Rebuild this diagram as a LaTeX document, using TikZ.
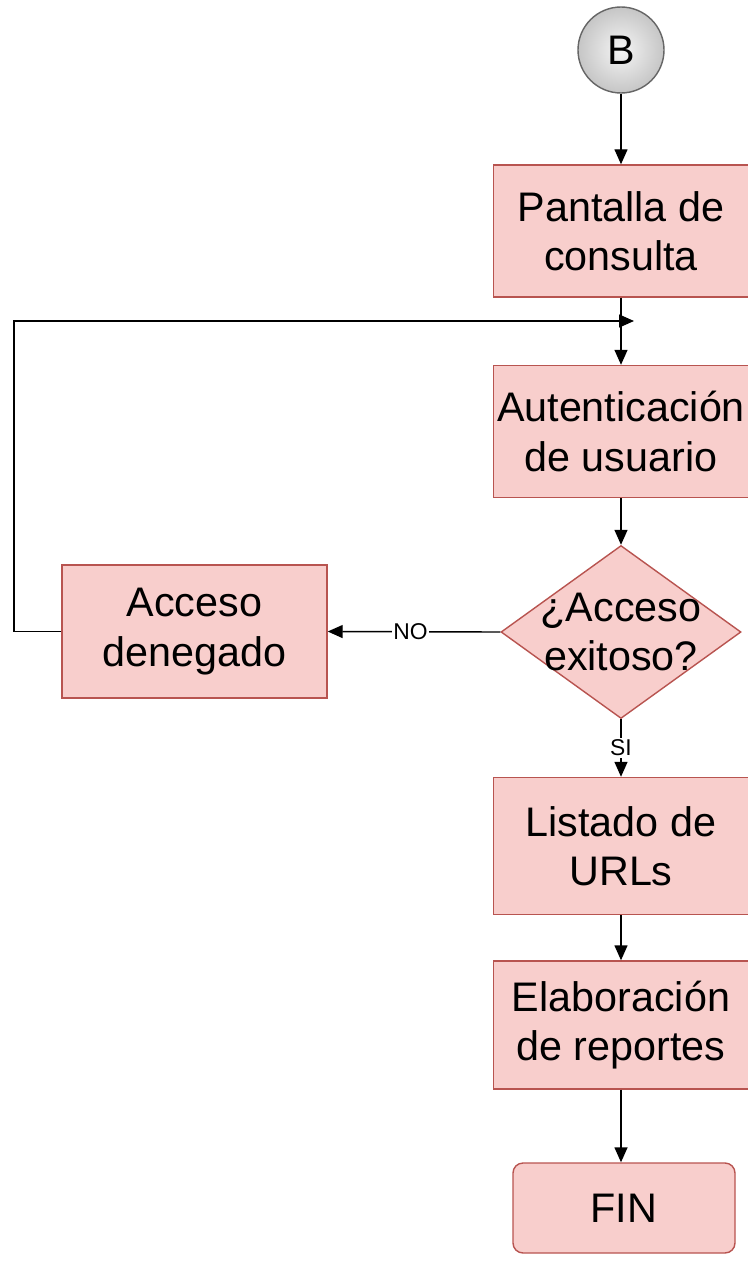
\documentclass[tikz,border=0pt]{standalone}
\usepackage{fontspec}
\setmainfont{Liberation Sans}
\usetikzlibrary{shapes.geometric,arrows.meta}
\definecolor{boxfill}{HTML}{F8CECC}
\definecolor{boxline}{HTML}{B85450}

\begin{document}
\begin{tikzpicture}[line width=0.8pt, >={Triangle[length=0.3cm,width=0.26cm]},
  proc/.style={draw=boxline, fill=boxfill, align=center, minimum width=5.1cm, minimum height=2.64cm, inner sep=0.05cm, font=\fontsize{23.5}{28}\selectfont},
  decision/.style={diamond, draw=boxline, fill=boxfill, align=center, shape aspect=1.39, minimum width=4.8cm, minimum height=3.46cm, inner sep=-0.5cm, font=\fontsize{23.5}{28}\selectfont},
  label/.style={fill=white, inner sep=1pt, font=\fontsize{13}{15}\selectfont}]
\useasboundingbox (0,0) rectangle (14.96,-25.46);
\node[circle, draw=gray!80!black, inner color=gray!8, outer color=gray!45, minimum size=1.72cm, inner sep=0pt, font=\fontsize{23.5}{28}\selectfont] (b) at (12.42,-1.0) {B};
\node[proc] (pant) at (12.42,-4.62) {Pantalla de\\consulta};
\node[proc] (auth) at (12.42,-8.63) {Autenticación\\de usuario};
\node[decision] (dec) at (12.42,-12.64) {¿Acceso\\exitoso?};
\node[proc, minimum width=5.3cm, minimum height=2.66cm] (deneg) at (3.89,-12.63) {Acceso\\denegado};
\node[proc, minimum height=2.74cm] (urls) at (12.42,-16.92) {Listado de\\URLs};
\node[proc, minimum height=2.56cm] (rep) at (12.42,-20.5) {Elaboración\\de reportes};
\node[proc, rounded corners=0.2cm, minimum width=4.44cm, minimum height=1.8cm] (fin) at (12.48,-24.16) {FIN};
\coordinate (corner) at (0.28,-6.42);
\coordinate (join) at (12.68,-6.42);
\draw[->] (b) -- (pant);
\draw[->] (pant) -- (auth);
\draw[->] (deneg.west) -| (corner) -- (join);
\draw[->] (auth) -- (auth.south |- dec.north);
\draw[->] (dec.west) -- node[label, pos=0.52] {NO} (deneg.east);
\draw[->] (dec.south) -- node[label] {SI} (dec.south |- urls.north);
\draw[->] (urls) -- (rep);
\draw[->] (rep) -- (rep.south |- fin.north);
\end{tikzpicture}
\end{document}
